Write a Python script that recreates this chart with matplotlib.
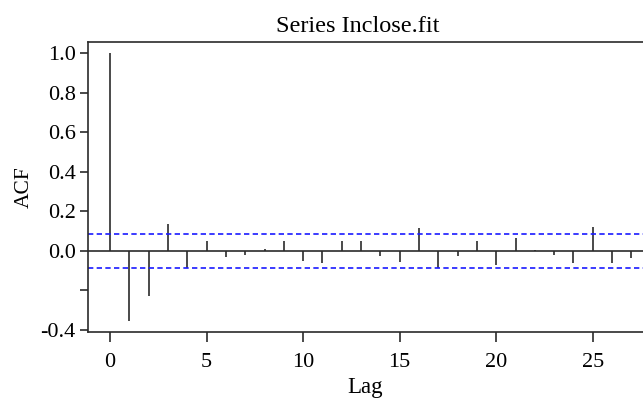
#!/usr/bin/env python3
"""ACF plot of the fitted lnclose series (R acf() style)."""
import matplotlib as mpl
import matplotlib.pyplot as plt
import numpy as np

mpl.rcParams.update({
    "font.family": "Liberation Serif",
    "font.size": 16,
    "axes.linewidth": 1.2,
})

# ---- data ----
lags = np.arange(0, 28)
acf_vals = [1.0, -0.357, -0.231, 0.136, -0.088, 0.05, -0.032, -0.02,
            0.007, 0.05, -0.052, -0.062, 0.05, 0.05, -0.025, -0.059,
            0.116, -0.088, -0.025, 0.05, -0.074, 0.067, 0.002, -0.02,
            -0.062, 0.121, -0.06, -0.037]
conf_limit = 0.087
y_ticks = [-0.4, -0.2, 0.0, 0.2, 0.4, 0.6, 0.8, 1.0]
y_ticklabels = ["-0.4", "", "0.0", "0.2", "0.4", "0.6", "0.8", "1.0"]
x_ticks = [0, 5, 10, 15, 20, 25]

LINE = "#2b2b2b"

fig = plt.figure(figsize=(6.43, 4.0), dpi=100)
ax = fig.add_axes([0.1369, 0.17, 0.8631, 0.724])

ax.vlines(lags, 0, acf_vals, color=LINE, linewidth=1.2)
ax.axhline(0, color=LINE, linewidth=1.2)
for s in (conf_limit, -conf_limit):
    ax.axhline(s, color="#1a1aff", linewidth=1.2, linestyle=(0, (3.2, 2.0)))

ax.set_xlim(-1.14, 27.6)
ax.set_ylim(-0.411, 1.054)
ax.set_yticks(y_ticks)
ax.set_yticklabels(y_ticklabels)
ax.set_xticks(x_ticks)

ax.spines["right"].set_visible(False)
for sp in ax.spines.values():
    sp.set_color(LINE)
ax.tick_params(axis="y", length=6, width=1.2, color=LINE, pad=3,
               labelsize=16)
ax.tick_params(axis="x", length=7, width=1.2, color=LINE, pad=8,
               labelsize=16)

ax.set_xlabel("Lag", fontsize=16.5, labelpad=4)
ax.set_ylabel("ACF", fontsize=15.5, labelpad=5)
# title sits a little left of the axes centre in the (cropped) reference
fig.text(357.5 / 643, 1 - 32 / 400, "Series Inclose.fit", fontsize=17.5,
         ha="center", va="baseline")

fig.savefig("out.png", dpi=100)
